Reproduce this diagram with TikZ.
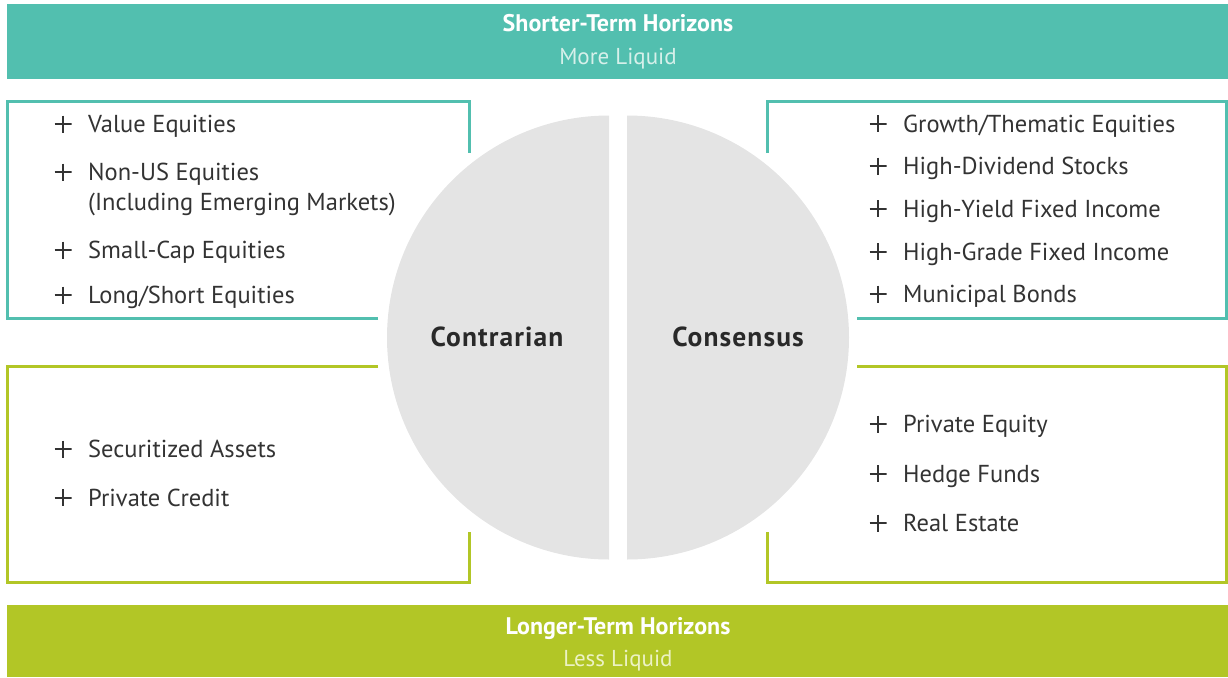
\documentclass[tikz,border=0pt]{standalone}
\usepackage{fontspec}
\setmainfont{PT Sans}
\newfontfamily\discfont[LetterSpace=4]{PT Sans}
\usetikzlibrary{calc}

\definecolor{horizteal}{RGB}{82,191,175}
\definecolor{horizlime}{RGB}{178,198,38}
\definecolor{discgray}{RGB}{228,228,228}
\definecolor{itemtext}{RGB}{51,51,51}
\definecolor{paleteal}{RGB}{214,240,234}
\definecolor{palelime}{RGB}{236,242,196}

\tikzset{
  box/.style={line width=3pt},
  bartitle/.style={anchor=base, inner sep=0pt, text=white, font=\fontsize{24}{24}\selectfont\bfseries},
  barsub/.style={anchor=base, inner sep=0pt, font=\fontsize{23}{23}\selectfont},
  disclabel/.style={anchor=base, inner sep=0pt, text=itemtext!80!black, font=\discfont\fontsize{27.5}{27.5}\selectfont\bfseries},
  item/.style={anchor=base west, inner sep=0pt, text=itemtext, font=\fontsize{24.5}{24.5}\selectfont},
  plusmark/.style={inner sep=0pt, minimum size=17pt, path picture={
      \draw[itemtext, line width=2pt] (path picture bounding box.north) -- (path picture bounding box.south)
        (path picture bounding box.west) -- (path picture bounding box.east);}}
}

\begin{document}
\begin{tikzpicture}[x=1pt, y=-1pt]
\useasboundingbox (0,0) rectangle (1228,677);

% Define centres of the two half discs
\coordinate (L) at (609,337.5);
\coordinate (R) at (627,337.5);

% Horizon bars
\fill[horizteal] (7,4) rectangle (1228,79);
\fill[horizlime] (7,605) rectangle (1228,677);
\node[bartitle] (short) at (618,31.5) {Shorter-Term Horizons};
\node[barsub, text=paleteal] (moreliq) at (618,64) {More Liquid};
\node[bartitle] (long) at (618,634.5) {Longer-Term Horizons};
\node[barsub, text=palelime] (lessliq) at (618,666) {Less Liquid};

% Split disc
\begin{scope}
\clip (0,0) rectangle (609,677);
\fill[discgray] (L) circle[radius=222pt];
\end{scope}
\begin{scope}
\clip (627,0) rectangle (1228,677);
\fill[discgray] (R) circle[radius=222pt];
\end{scope}
\node[disclabel] (contra) at (497,346.5) {Contrarian};
\node[disclabel] (consen) at (738,346.5) {Consensus};

% Open boxes round the lists
\draw[box, horizteal] (378,318) -- (7,318) -- (7,101) -- (469,101) -- (469,153);
\draw[box, horizteal] (767,153) -- (767,101) -- (1226,101) -- (1226,318) -- (857,318);
\draw[box, horizlime] (378,366) -- (7,366) -- (7,582) -- (469,582) -- (469,532);
\draw[box, horizlime] (857,366) -- (1226,366) -- (1226,582) -- (767,582) -- (767,532);

% Contrarian, shorter term
\foreach \name/\yy/\txt in {val/132.5/Value Equities, nonus/180.5/Non-US Equities,
    small/258.5/Small-Cap Equities, lsh/303.5/{Long/Short Equities}} {
  \node[item] (\name) at (88,\yy) {\txt};
  \node[plusmark] (\name p) at ($(\name.base west)+(-25,-8.5)$) {};
}
\node[item] (nonusb) at (88,210.5) {(Including Emerging Markets)};

% Contrarian, longer term
\foreach \name/\yy/\txt in {sec/457.5/Securitized Assets, pcred/506/Private Credit} {
  \node[item] (\name) at (88,\yy) {\txt};
  \node[plusmark] (\name p) at ($(\name.base west)+(-25,-8.5)$) {};
}

% Consensus, shorter term
\foreach \name/\yy/\txt in {grow/132/{Growth/Thematic Equities}, hdiv/174.5/High-Dividend Stocks,
    hyld/217/High-Yield Fixed Income, hgrd/260/High-Grade Fixed Income, muni/302.5/Municipal Bonds} {
  \node[item] (\name) at (903,\yy) {\txt};
  \node[plusmark] (\name p) at ($(\name.base west)+(-25,-8.5)$) {};
}

% Consensus, longer term
\foreach \name/\yy/\txt in {peq/432.5/Private Equity, hedge/482/Hedge Funds, reale/531.5/Real Estate} {
  \node[item] (\name) at (903,\yy) {\txt};
  \node[plusmark] (\name p) at ($(\name.base west)+(-25,-8.5)$) {};
}

\end{tikzpicture}
\end{document}
